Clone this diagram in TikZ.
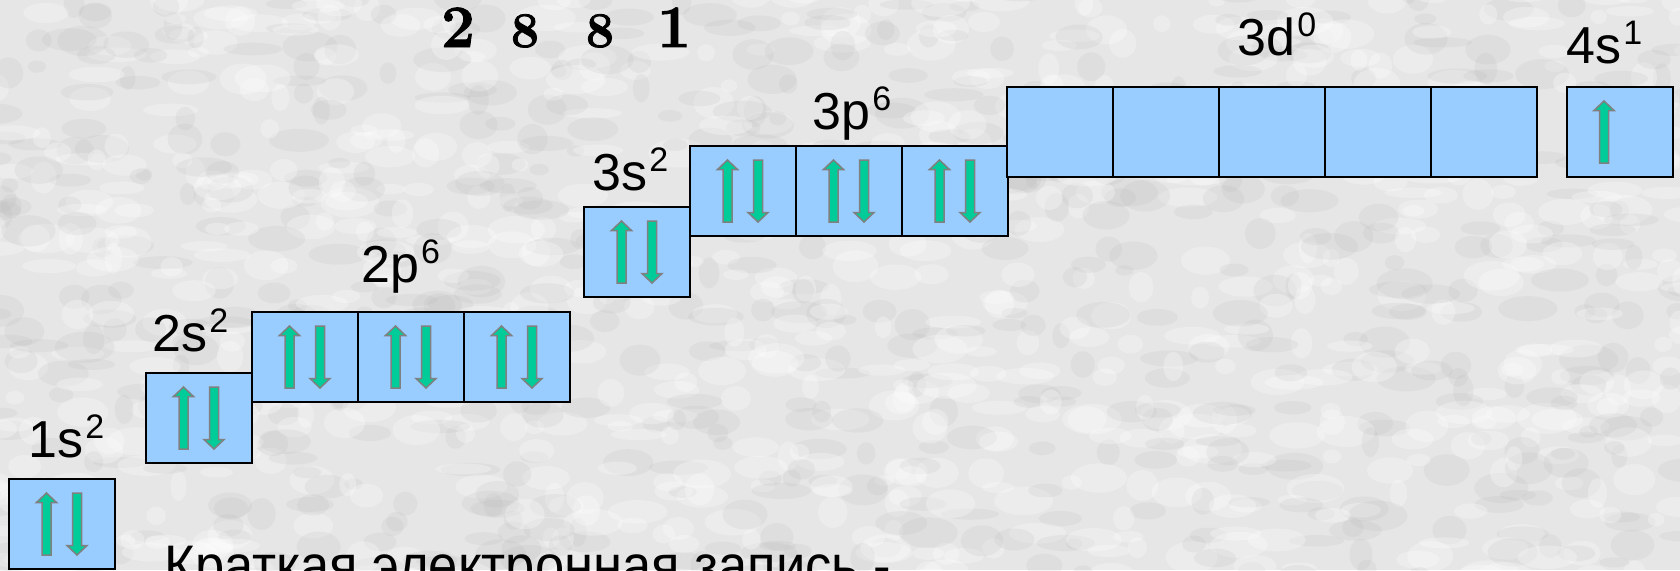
\documentclass[tikz,border=0pt]{standalone}
\usepackage{fontspec}
\usepackage{graphicx}
\newfontfamily\arialf{Liberation Sans}
\newfontfamily\shellf{Latin Modern Roman}[BoldFeatures={FakeBold=1.6}]
\usetikzlibrary{calc}

\definecolor{orbblue}{HTML}{99CCFF}
\definecolor{spinfill}{HTML}{00CC99}
\definecolor{spinedge}{HTML}{808080}
\definecolor{paper}{HTML}{E6E6E6}

% orbital label: main text plus a raised superscript
\newcommand\orblbl[2]{#1\kern1pt\raisebox{9.5pt}{\fontsize{17}{17}\selectfont #2}}

\tikzset{
  orb/.style={draw=black, line width=1pt, fill=orbblue, minimum width=53pt,
              minimum height=45pt, inner sep=0pt, outer sep=0pt},
  lbl/.style={font=\arialf\fontsize{26}{30}\selectfont, inner sep=0pt, anchor=base west},
  shell/.style={font=\shellf\bfseries\fontsize{30}{30}\selectfont, inner sep=0pt, anchor=base},
  shellsmall/.style={font=\shellf\bfseries\fontsize{25}{25}\selectfont, inner sep=0pt, anchor=base},
  spin/.style={fill=spinfill, draw=spinedge, line width=0.75pt, line join=miter},
  upspin/.pic={\path[spin] (0,-31) -- (10,-21.5) -- (4.5,-21.5) -- (4.5,31)
                 -- (-4.5,31) -- (-4.5,-21.5) -- (-10,-21.5) -- cycle;},
  downspin/.pic={\path[spin] (0,31) -- (10,21.5) -- (4.5,21.5) -- (4.5,-31)
                 -- (-4.5,-31) -- (-4.5,21.5) -- (-10,21.5) -- cycle;},
  pair/.pic={\pic at (-15.5,0) {upspin}; \pic at (15,0) {downspin};}
}

\begin{document}
\begin{tikzpicture}[x=0.5pt, y=-0.5pt]
  % canvas (1 unit = 1 px, y grows downward)
  \clip (0,0) rectangle (1680,570);
  \fill[paper] (0,0) rectangle (1680,570);

  % mottled stone texture
  \pgfmathsetseed{4242}
  \foreach \i in {1,...,1400}{
    \pgfmathsetmacro\px{rnd*1700-10}
    \pgfmathsetmacro\py{rnd*590-10}
    \pgfmathsetmacro\rx{8+rnd*22}
    \pgfmathsetmacro\ry{5+rnd*11}
    \pgfmathsetmacro\tone{rnd}
    \ifdim\tone pt<0.45pt
      \fill[gray!60, opacity=0.14] (\px,\py) ellipse [x radius=\rx, y radius=\ry];
    \else
      \fill[white, opacity=0.28] (\px,\py) ellipse [x radius=\rx, y radius=\ry];
    \fi
  }

  % shell electron counts
  \node[shell]      (n1) at (458,47) {2};
  \node[shellsmall] (n2) at (525,47) {8};
  \node[shellsmall] (n3) at (600,47) {8};
  \node[shell]      (n4) at (674,47) {1};

  % 1s
  \node[orb, anchor=north west] (b1s) at (9,479) {};
  \pic at (b1s) {pair};
  \node[lbl] (l1s) at (28,457) {\orblbl{1s}{2}};

  % 2s
  \node[orb, anchor=north west] (b2s) at (146,373) {};
  \pic at (b2s) {pair};
  \node[lbl] (l2s) at (152,351) {\orblbl{2s}{2}};

  % 2p
  \node[orb, anchor=north west] (b2pa) at (252,312) {};
  \node[orb, anchor=west] (b2pb) at (b2pa.east) {};
  \node[orb, anchor=west] (b2pc) at (b2pb.east) {};
  \pic at (b2pa) {pair};
  \pic at (b2pb) {pair};
  \pic at (b2pc) {pair};
  \node[lbl] (l2p) at (361,282) {\orblbl{2p}{6}};

  % 3s
  \node[orb, anchor=north west] (b3s) at (584,207) {};
  \pic at (b3s) {pair};
  \node[lbl] (l3s) at (592,190) {\orblbl{3s}{2}};

  % 3p
  \node[orb, anchor=north west] (b3pa) at (690,146) {};
  \node[orb, anchor=west] (b3pb) at (b3pa.east) {};
  \node[orb, anchor=west] (b3pc) at (b3pb.east) {};
  \pic at (b3pa) {pair};
  \pic at (b3pb) {pair};
  \pic at (b3pc) {pair};
  \node[lbl] (l3p) at (812,129) {\orblbl{3p}{6}};

  % 3d (empty)
  \node[orb, anchor=north west] (b3da) at (1007,87) {};
  \node[orb, anchor=west] (b3db) at (b3da.east) {};
  \node[orb, anchor=west] (b3dc) at (b3db.east) {};
  \node[orb, anchor=west] (b3dd) at (b3dc.east) {};
  \node[orb, anchor=west] (b3de) at (b3dd.east) {};
  \node[lbl] (l3d) at (1237,55) {\orblbl{3d}{0}};

  % 4s
  \node[orb, anchor=north west] (b4s) at (1567,87) {};
  \pic at ($(b4s)+(-16,0)$) {upspin};
  \node[lbl] (l4s) at (1566,63) {\orblbl{4s}{1}};

  % caption line
  \node[font=\arialf\fontsize{26}{30}\selectfont, inner sep=0pt, anchor=base west]
    (cap) at (164,585) {\scalebox{1.01}[1.1]{Краткая электронная запись -}};
\end{tikzpicture}
\end{document}
